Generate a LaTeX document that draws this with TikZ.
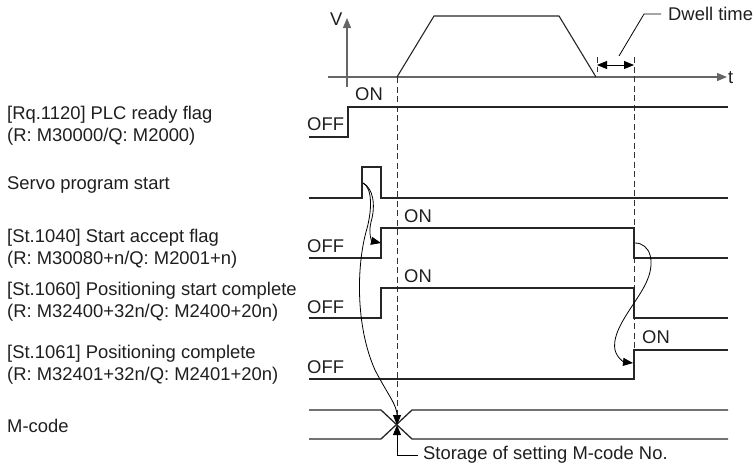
\documentclass[tikz,border=0pt]{standalone}
\usepackage{fontspec}
\setmainfont{Liberation Sans}
\usetikzlibrary{arrows.meta}
\begin{document}
\begin{tikzpicture}[x=1pt,y=-1pt,
  lbl/.style={inner sep=0pt, font=\fontsize{18.4}{22}\selectfont, text=black!88},
  sig/.style={line width=1.3pt, black!85, line join=miter},
  axis/.style={line width=1.2pt, black!60},
  dsh/.style={line width=1pt, black!80, dash pattern=on 6pt off 3.5pt},
  crv/.style={line width=0.8pt, black},
  tipa/.style={-{Triangle[length=10pt,width=8pt]}},
]
\useasboundingbox (0,0) rectangle (754,467);

% ---- left labels
\node[lbl, anchor=west, align=left] (plc) at (7,126) {[Rq.1120] PLC ready flag\\(R: M30000/Q: M2000)};
\node[lbl, anchor=base west] (servo) at (7,189) {Servo program start};
\node[lbl, anchor=west, align=left] (sa) at (7,249) {[St.1040] Start accept flag\\(R: M30080+n/Q: M2001+n)};
\node[lbl, anchor=west, align=left] (psc) at (7,302) {[St.1060] Positioning start complete\\(R: M32400+32n/Q: M2400+20n)};
\node[lbl, anchor=west, align=left] (pc) at (7,365) {[St.1061] Positioning complete\\(R: M32401+32n/Q: M2401+20n)};
\node[lbl, anchor=base west] (mcode) at (7,432) {M-code};

% ---- ON / OFF labels
\node[lbl, anchor=base west] (off1) at (307,130) {OFF};
\node[lbl, anchor=base west] (on1) at (355,100) {ON};
\node[lbl, anchor=base west] (off2) at (307,252) {OFF};
\node[lbl, anchor=base west] (on2) at (404,222) {ON};
\node[lbl, anchor=base west] (off3) at (307,313) {OFF};
\node[lbl, anchor=base west] (on3) at (404,282) {ON};
\node[lbl, anchor=base west] (off4) at (307,373) {OFF};
\node[lbl, anchor=base west] (on4) at (642,343) {ON};

% ---- velocity chart
\coordinate (vbot) at (347,87);
\coordinate (vtop) at (347,18);
\coordinate (tl) at (328,77);
\coordinate (tr) at (727,77);
\draw[axis, tipa] (vbot) -- (vtop);
\draw[axis, tipa] (tl) -- (tr);
\node[lbl, anchor=base west] (vlab) at (330,25) {V};
\node[lbl, anchor=base west] (tlab) at (728,83) {t};
\coordinate (accS) at (397,77);
\coordinate (decE) at (596,77);
\draw[sig, line width=1.1pt] (accS) -- (434,16) -- (559,16) -- (decE);

% ---- dwell time
\coordinate (dwL) at (597,65);
\coordinate (dwR) at (634,65);
\draw[dsh] (597,57) -- (597,72);
\draw[line width=0.9pt, {Triangle[length=10pt,width=8pt]}-{Triangle[length=10pt,width=8pt]}] (dwL) -- (dwR);
\node[lbl, anchor=west] (dwell) at (668,14) {Dwell time};
\coordinate (dwk) at (644,14);
\draw[line width=0.8pt] (619,56) -- (dwk) -- ([xshift=-7pt]dwell.west);

% ---- dashed guide lines
\draw[dsh] (accS) -- (397,416);
\draw[dsh] (634,57) -- (634,350);

% ---- signals
\draw[sig] (309,137) -- (348,137) -- (348,107) -- (728,107);
\draw[sig] (309,198) -- (362,198) -- (362,167) -- (381,167) -- (381,198) -- (728,198);
\draw[sig] (309,258) -- (381,258) -- (381,228) -- (634,228) -- (634,258) -- (728,258);
\draw[sig] (309,318) -- (381,318) -- (381,288) -- (634,288) -- (634,318) -- (728,318);
\draw[sig] (309,379) -- (634,379) -- (634,350) -- (728,350);
\draw[sig] (309,410) -- (381,410) -- (412,439) -- (728,439);
\draw[sig] (309,439) -- (381,439) -- (412,410) -- (728,410);

% ---- cause/effect curves
\coordinate (pulse) at (363,183);
\coordinate (saRise) at (381,243);
\coordinate (xingT) at (397,425);
\coordinate (xingB) at (397,425);
\coordinate (saFall) at (635,243);
\coordinate (pcRise) at (633,363);
\draw[crv, tipa] (pulse) .. controls (373,188) and (376,205) .. (371,222)
  .. controls (368,234) and (372,241) .. (saRise);
\draw[crv, tipa] (pulse) .. controls (373,188) and (372,212) .. (366,232)
  .. controls (357,265) and (355,325) .. (375,370)
  .. controls (388,395) and (397,405) .. (xingT);
\draw[crv, tipa] (saFall) .. controls (650,243) and (657,262) .. (645,285)
  .. controls (635,305) and (611,330) .. (615,350)
  .. controls (617,358) and (624,362) .. (pcRise);

% ---- storage leader
\node[lbl, anchor=west] (storage) at (423,455) {Storage of setting M-code No.};
\coordinate (stk) at (397,455);
\draw[line width=0.8pt, tipa] ([xshift=-5pt]storage.west) -- (stk) -- (xingB);
\end{tikzpicture}
\end{document}
